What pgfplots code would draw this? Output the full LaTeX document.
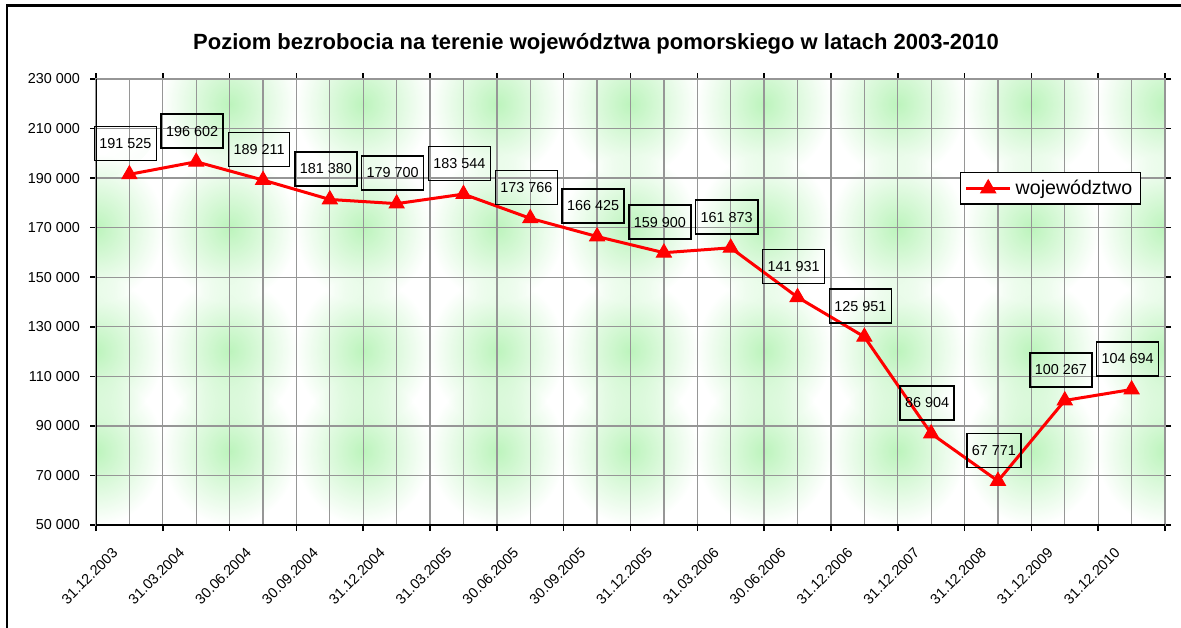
\documentclass[border=0pt]{standalone}
\usepackage{fontspec}
\setmainfont{Liberation Sans}
\usepackage{pgfplots}
\pgfplotsset{compat=1.18}
\usetikzlibrary{fadings}
\tikzfading[name=blob, inner color=transparent!0, outer color=transparent!100]
\definecolor{bgreen}{RGB}{188,244,188}
\definecolor{gridgray}{RGB}{150,150,150}

\begin{document}
\begin{tikzpicture}
\useasboundingbox (0,0) rectangle (590.5pt,-313.5pt);
\draw[line width=1.4pt] (3.5pt,-330pt) -- (3.5pt,-2.85pt) -- (610pt,-2.85pt);
\node[font=\bfseries\fontsize{11}{13}\selectfont, anchor=base] at (298pt,-24.5pt)
  {Poziom bezrobocia na terenie województwa pomorskiego w latach 2003-2010};

\begin{axis}[
  at={(48pt,-262.5pt)}, anchor=south west,
  scale only axis, width=534.5pt, height=223pt,
  xmin=0.5, xmax=16.5, ymin=50000, ymax=230000,
  scaled y ticks=false,
  /pgf/number format/.cd, fixed, precision=0, 1000 sep={\ }, assume math mode=true, /pgfplots/.cd,
  xtick={0.5,1.5,...,16.5}, xticklabels={},
  extra x ticks={1,2,...,16},
  extra x tick labels={31.12.2003,31.03.2004,30.06.2004,30.09.2004,31.12.2004,31.03.2005,30.06.2005,30.09.2005,31.12.2005,31.03.2006,30.06.2006,31.12.2006,31.12.2007,31.12.2008,31.12.2009,31.12.2010},
  extra x tick style={grid=major, major tick length=0pt},
  ytick={50000,70000,...,230000},
  xmajorgrids, ymajorgrids,
  major grid style={draw=gridgray, line width=0.65pt},
  tick align=outside, major tick length=3pt,
  tick style={black, line width=0.8pt},
  axis line style={draw=gridgray, line width=1pt},
  ticklabel style={font=\fontsize{7.2}{8.6}\selectfont},
  yticklabel style={xshift=-1.5pt},
  xticklabel style={xshift=-9pt, yshift=-6pt, rotate=45, anchor=north east},
  axis background/.style={
    path picture={
      \foreach \yy in {25,149,272,372} {
        \foreach \c in {0,...,8} {
          \pgfmathsetmacro\cx{0.5*(133.6*\c)}
          \pgfmathsetmacro\cy{0.5*\yy}
          \fill[bgreen, path fading=blob]
            ([xshift=\cx pt, yshift=-\cy pt]path picture bounding box.north west)
            ellipse [x radius=34pt, y radius=37pt];
        }
      }
    }
  },
  legend style={at={(0.8082,0.7915)}, anchor=north west, draw=black, line width=0.75pt,
    font=\fontsize{9.8}{11}\selectfont, inner xsep=2pt, inner ysep=1.5pt, fill=white},
  legend image code/.code={\draw[mark repeat=2,mark phase=2,#1] plot coordinates {(0pt,0pt) (11pt,0pt) (22pt,0pt)};},
  nodes near coords,
  every node near coord/.append style={draw=black, line width=0.75pt, text=black,
    font=\fontsize{7.2}{8.6}\selectfont, inner xsep=2.5pt, minimum height=17pt,
    anchor=center, yshift=15.3pt, xshift=-2pt},
]
\addplot[red, line width=1.5pt, mark=triangle*, mark size=4.3pt,
  mark options={solid, fill=red, line width=0.5pt}]
  coordinates {
  (1,191525) (2,196602) (3,189211) (4,181380) (5,179700) (6,183544)
  (7,173766) (8,166425) (9,159900) (10,161873) (11,141931) (12,125951)
  (13,86904) (14,67771) (15,100267) (16,104694)
  };
\addlegendentry{województwo}
\draw[black, line width=1pt] (rel axis cs:0,1) -- (rel axis cs:0,0) -- (rel axis cs:1,0);
\end{axis}
\end{tikzpicture}
\end{document}
